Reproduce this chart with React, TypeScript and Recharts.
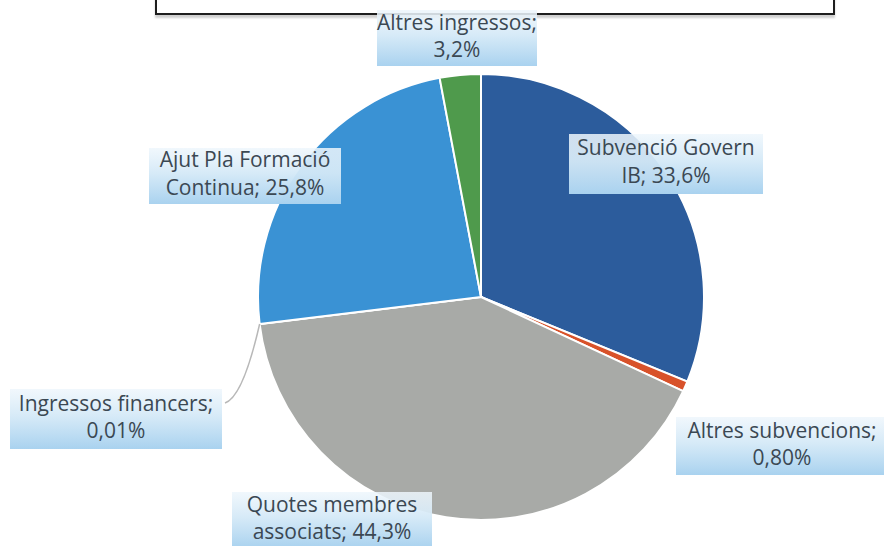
import { PieChart, Pie, Cell } from 'recharts';

const categories = [
  'Subvenció Govern IB',
  'Altres subvencions',
  'Quotes membres associats',
  'Ingressos financers',
  'Ajut Pla Formació Continua',
  'Altres ingressos',
];
const values = [33.6, 0.8, 44.3, 0.01, 25.8, 3.2];
const labelLines = [
  ['Subvenció Govern', 'IB; 33,6%'],
  ['Altres subvencions;', '0,80%'],
  ['Quotes membres', 'associats; 44,3%'],
  ['Ingressos financers;', '0,01%'],
  ['Ajut Pla Formació', 'Continua; 25,8%'],
  ['Altres ingressos;', '3,2%'],
];

const colors = ['#2c5c9c', '#d8522a', '#a8aaa7', '#8a8a8a', '#3a92d4', '#4f9a4c'];

// label boxes placed relative to the pie centre
const labelLayout = [
  { dx: 185, dy: -135, w: 194, h: 60, gap: 28 },
  { dx: 301, dy: 147, w: 212, h: 58, gap: 27 },
  { dx: -149, dy: 221, w: 200, h: 56, gap: 27 },
  { dx: -365, dy: 120, w: 212, h: 60, gap: 27 },
  { dx: -236, dy: -123, w: 192, h: 56, gap: 28 },
  { dx: -24, dy: -261, w: 160, h: 56, gap: 27 },
];

const data = categories.map((name, i) => ({ name, value: values[i] }));

const RAD = Math.PI / 180;
const FONT = "'Open Sans', Lato, sans-serif";

function renderLabel(props: any) {
  const { cx, cy, index, midAngle, outerRadius } = props;
  const l = labelLayout[index];
  const bx = cx + l.dx;
  const by = cy + l.dy;
  const [a, b] = labelLines[index];
  let leader = null;
  if (index === 3) {
    const ex = cx + outerRadius * Math.cos(-midAngle * RAD);
    const ey = cy + outerRadius * Math.sin(-midAngle * RAD);
    const tx = bx + l.w / 2 + 3;
    const ty = by - 14;
    leader = (
      <path
        d={`M${ex},${ey} Q${tx + 18},${ty - 6} ${tx},${ty}`}
        stroke="#b8b8b8"
        strokeWidth={1.5}
        fill="none"
      />
    );
  }
  return (
    <g>
      {leader}
      <rect x={bx - l.w / 2} y={by - l.h / 2 + 2} width={l.w} height={l.h} fill="url(#lblFill)" />
      <text x={bx} y={by - l.gap / 2 + 7} textAnchor="middle" fill="#3b4853" fontSize={21} fontFamily={FONT}>
        {a}
      </text>
      <text x={bx} y={by + l.gap / 2 + 7} textAnchor="middle" fill="#3b4853" fontSize={21} fontFamily={FONT}>
        {b}
      </text>
    </g>
  );
}

export default function App() {
  return (
    <div style={{ position: 'absolute', left: 0, top: 0, width: 884, height: 546, background: '#fff', overflow: 'hidden' }}>
      <div
        style={{
          position: 'absolute',
          left: 155,
          top: -14,
          width: 676,
          height: 25,
          border: '2.5px solid #1e1e1e',
          boxShadow: '0 3px 2px #cfcfcf',
          background: '#fff',
        }}
      />
      <div style={{ position: 'absolute', left: 0, top: 0 }}>
        <PieChart width={884} height={546} margin={{ top: 0, right: 0, bottom: 0, left: 0 }}>
          <defs>
            <linearGradient id="lblFill" x1="0" y1="0" x2="0" y2="1">
              <stop offset="0%" stopColor="#eef6fc" stopOpacity={0.85} />
              <stop offset="45%" stopColor="#d4e9f7" stopOpacity={0.95} />
              <stop offset="100%" stopColor="#a9d2ef" />
            </linearGradient>
          </defs>
          <Pie
            data={data}
            dataKey="value"
            nameKey="name"
            cx={481}
            cy={297}
            outerRadius={223}
            startAngle={90}
            endAngle={-270}
            stroke="#ffffff"
            strokeWidth={2}
            label={renderLabel}
            labelLine={false}
            isAnimationActive={false}
          >
            {data.map((d, i) => (
              <Cell key={d.name} fill={colors[i]} />
            ))}
          </Pie>
        </PieChart>
      </div>
    </div>
  );
}
